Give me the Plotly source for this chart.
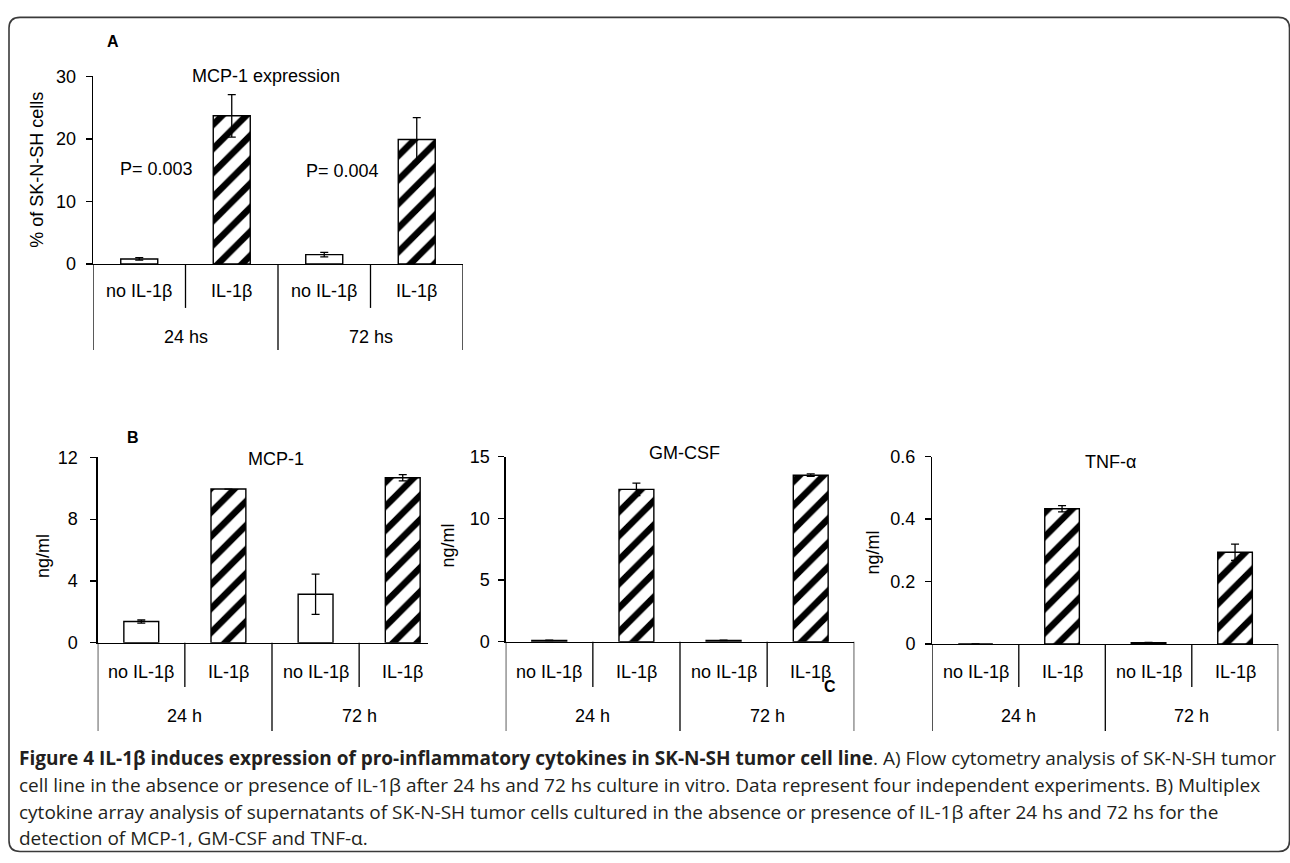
import plotly.graph_objects as go

W, H = 1290, 863

# ---------------- data ----------------
categories = ["no IL-1β", "IL-1β", "no IL-1β", "IL-1β"]
groups_A = ["24 hs", "72 hs"]
groups_B = ["24 h", "72 h"]

mcp1_flow = [0.8, 23.7, 1.5, 19.9]
mcp1_flow_err = [0.2, 3.4, 0.35, 3.5]

mcp1_conc = [1.37, 9.95, 3.14, 10.68]
mcp1_conc_err = [0.1, 0.0, 1.3, 0.2]

gmcsf_conc = [0.1, 12.35, 0.1, 13.5]
gmcsf_conc_err = [0.02, 0.5, 0.02, 0.1]

tnf_conc = [0.0, 0.433, 0.004, 0.294]
tnf_conc_err = [0.0, 0.01, 0.001, 0.026]

ticks_A = [0, 10, 20, 30]
ticks_mcp1 = [0, 4, 8, 12]
ticks_gmcsf = [0, 5, 10, 15]
ticks_tnf = [0, 0.2, 0.4, 0.6]
ticks_tnf_text = ["0", "0.2", "0.4", "0.6"]

p_values = ["P= 0.003", "P= 0.004"]

bar_patterns = ["", "/", "", "/"]

caption_lines = [
    "<b>Figure 4 IL-1β induces expression of pro-inflammatory cytokines in SK-N-SH tumor cell line</b>. A) Flow cytometry analysis of SK-N-SH tumor",
    "cell line in the absence or presence of IL-1β after 24 hs and 72 hs culture in vitro. Data represent four independent experiments. B) Multiplex",
    "cytokine array analysis of supernatants of SK-N-SH tumor cells cultured in the absence or presence of IL-1β after 24 hs and 72 hs for the",
    "detection of MCP-1, GM-CSF and TNF-α.",
]


# ---------------- helpers ----------------
def PX(x):
    return x / W


def PY(y):
    return 1 - y / H


FONT = "Liberation Sans, Arial, sans-serif"
FS = 18

panels = [
    dict(vals=mcp1_flow, err=mcp1_flow_err, tv=ticks_A, tt=[str(t) for t in ticks_A], ymax=30,
         xd=(93, 463), yd=(68, 260), xmax=3.5, title="MCP-1 expression", tpos=(265.5, 68),
         ytitle="% of SK-N-SH cells", ytpos=(37, 163.5), groups=groups_A, ly=288, gy=335,
         sdiv=305, ldiv=348, standoff=6),
    dict(vals=mcp1_conc, err=mcp1_conc_err, tv=ticks_mcp1, tt=[str(t) for t in ticks_mcp1], ymax=12,
         xd=(97.7, 428), yd=(458, 647.7), xmax=3.29, title="MCP-1", tpos=(275.7, 460),
         ytitle="ng/ml", ytpos=(43, 559), groups=groups_B, ly=678, gy=723,
         sdiv=693, ldiv=738, standoff=9),
    dict(vals=gmcsf_conc, err=gmcsf_conc_err, tv=ticks_gmcsf, tt=[str(t) for t in ticks_gmcsf], ymax=15,
         xd=(505.7, 854.3), yd=(457.3, 646.7), xmax=3.5, title="GM-CSF", tpos=(684, 454),
         ytitle="ng/ml", ytpos=(448.3, 548), groups=groups_B, ly=678, gy=723,
         sdiv=693, ldiv=738, standoff=5),
    dict(vals=tnf_conc, err=tnf_conc_err, tv=ticks_tnf, tt=ticks_tnf_text, ymax=0.6,
         xd=(932.3, 1278.3), yd=(457.3, 649), xmax=3.5, title="TNF-α", tpos=(1110, 463),
         ytitle="ng/ml", ytpos=(873.3, 555), groups=groups_B, ly=678, gy=723,
         sdiv=693, ldiv=738, standoff=6),
]

fig = go.Figure()
annotations = []
shapes = []
layout_axes = {}
txt_font = dict(family=FONT, size=FS, color="black")

for i, p in enumerate(panels):
    n = i + 1
    xa = "x" if n == 1 else f"x{n}"
    ya = "y" if n == 1 else f"y{n}"
    xs = list(range(len(categories)))
    fig.add_trace(go.Bar(
        x=xs, y=p["vals"], width=0.4, xaxis=xa, yaxis=ya,
        marker=dict(color="white", line=dict(color="black", width=1.4),
                    pattern=dict(shape=bar_patterns, fgcolor="black", bgcolor="white",
                                 fgopacity=1, size=17, solidity=0.38, fillmode="replace")),
        error_y=dict(type="data", array=p["err"], visible=True, color="black",
                     thickness=1.3, width=4),
        showlegend=False, hoverinfo="skip",
    ))
    xkey = "xaxis" if n == 1 else f"xaxis{n}"
    ykey = "yaxis" if n == 1 else f"yaxis{n}"
    layout_axes[xkey] = dict(
        domain=[PX(p["xd"][0]), PX(p["xd"][1])], range=[-0.5, p["xmax"]],
        anchor=ya, showticklabels=False, ticks="", showgrid=False, zeroline=False,
        showline=True, linecolor="black", linewidth=1.3, fixedrange=True,
    )
    layout_axes[ykey] = dict(
        domain=[PY(p["yd"][1]), PY(p["yd"][0])], range=[0, p["ymax"]],
        anchor=xa, tickvals=p["tv"], ticktext=p["tt"], ticks="outside", ticklen=6,
        tickwidth=1.3, tickcolor="black", showgrid=False, zeroline=False,
        showline=True, linecolor="black", linewidth=1.3, fixedrange=True,
        tickfont=txt_font, ticklabelstandoff=p["standoff"],
    )
    annotations.append(dict(text=p["title"], x=PX(p["tpos"][0]), y=PY(p["tpos"][1]),
                            xref="paper", yref="paper", showarrow=False,
                            xanchor="center", yanchor="middle", font=txt_font))
    annotations.append(dict(text=p["ytitle"], x=PX(p["ytpos"][0]), y=PY(p["ytpos"][1]),
                            xref="paper", yref="paper", showarrow=False, textangle=-90,
                            xanchor="center", yanchor="middle", font=txt_font))
    for j, c in enumerate(categories):
        annotations.append(dict(text=c, x=j, y=PY(p["ly"]), xref=xa, yref="paper",
                                showarrow=False, xanchor="center", yanchor="middle",
                                font=txt_font))
    for g, gname in enumerate(p["groups"]):
        annotations.append(dict(text=gname, x=2 * g + 0.5, y=PY(p["gy"]), xref=xa, yref="paper",
                                showarrow=False, xanchor="center", yanchor="middle",
                                font=txt_font))
    y0 = PY(p["yd"][1])
    for k in range(len(categories) + 1):
        xb = k - 0.5
        if xb > p["xmax"]:
            continue
        yb = PY(p["ldiv"]) if k % 2 == 0 else PY(p["sdiv"])
        shapes.append(dict(type="line", xref=xa, yref="paper", x0=xb, x1=xb, y0=y0, y1=yb,
                           line=dict(color="black", width=1.3), layer="above"))

# P-values in panel A
for ptxt, (px_, py_) in zip(p_values, [(156, 163), (342, 165)]):
    annotations.append(dict(text=ptxt, x=PX(px_), y=PY(py_), xref="paper", yref="paper",
                            showarrow=False, xanchor="center", yanchor="middle", font=txt_font))

for letter, (lx, ly) in {"A": (113, 32), "B": (133, 438), "C": (830, 693)}.items():
    annotations.append(dict(text=f"<b>{letter}</b>", x=PX(lx), y=PY(ly), xref="paper", yref="paper",
                            showarrow=False, xanchor="center", yanchor="middle",
                            font=dict(family=FONT, size=16, color="black")))

cap_y = [766, 793, 821, 848]
for line, cy in zip(caption_lines, cap_y):
    annotations.append(dict(text=line, x=PX(17), y=PY(cy), xref="paper", yref="paper",
                            showarrow=False, xanchor="left", yanchor="middle", align="left",
                            font=dict(family="Open Sans, sans-serif", size=19, color="#231f20")))

l, r, t, b, rad = 9, 1289.5, 7.5, 861.5, 11
path = (f"M {PX(l + rad)},{PY(t)} L {PX(r - rad)},{PY(t)} "
        f"Q {PX(r)},{PY(t)} {PX(r)},{PY(t + rad)} L {PX(r)},{PY(b - rad)} "
        f"Q {PX(r)},{PY(b)} {PX(r - rad)},{PY(b)} L {PX(l + rad)},{PY(b)} "
        f"Q {PX(l)},{PY(b)} {PX(l)},{PY(b - rad)} L {PX(l)},{PY(t + rad)} "
        f"Q {PX(l)},{PY(t)} {PX(l + rad)},{PY(t)} Z")
shapes.append(dict(type="path", path=path, xref="paper", yref="paper",
                   line=dict(color="#3a3a3a", width=1.6), layer="below"))

fig.update_layout(
    width=W, height=H, margin=dict(l=0, r=0, t=0, b=0),
    paper_bgcolor="white", plot_bgcolor="rgba(0,0,0,0)",
    annotations=annotations, shapes=shapes, bargap=0, **layout_axes,
)

fig.write_html("out.html", config={"displayModeBar": False, "staticPlot": True})

# remove the default page margin so the figure fills the window exactly
with open("out.html", encoding="utf-8") as f:
    html = f.read()
html = html.replace("<head>", "<head><style>html,body{margin:0;padding:0;overflow:hidden;}</style>", 1)
with open("out.html", "w", encoding="utf-8") as f:
    f.write(html)
